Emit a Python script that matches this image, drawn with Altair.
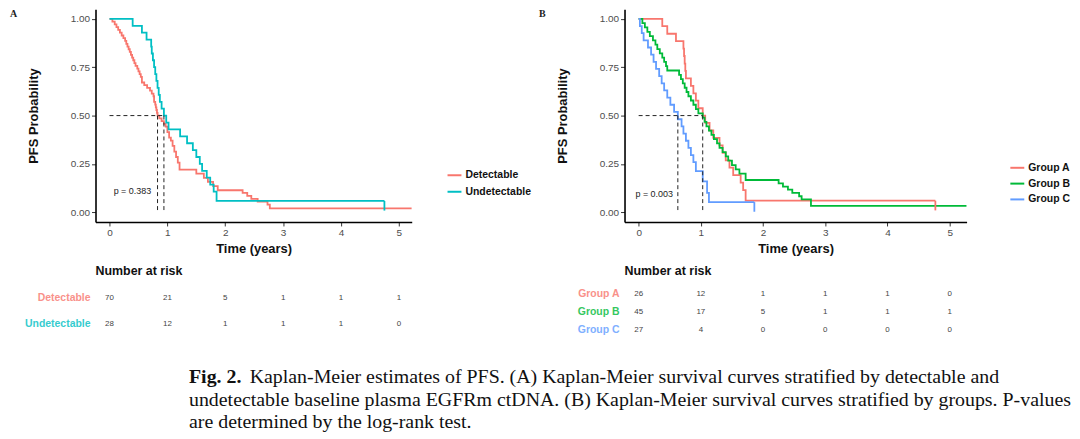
import altair as alt
import pandas as pd

# ---------------- data ----------------
det_t = [0, 0.05, 0.09, 0.12, 0.15, 0.18, 0.21, 0.24, 0.27, 0.29, 0.31, 0.33, 0.35, 0.37, 0.39,
         0.41, 0.43, 0.45, 0.48, 0.5, 0.52, 0.54, 0.56, 0.6, 0.65, 0.7, 0.73, 0.76, 0.77, 0.79,
         0.8, 0.81, 0.82, 0.83, 0.86, 0.9, 0.94, 0.97, 1.0, 1.03, 1.06, 1.09, 1.12, 1.15, 1.18,
         1.21, 1.5, 1.63, 1.7, 1.79, 1.87, 2.3, 2.38, 2.45, 2.56, 2.73, 2.77, 5.22]
det_s = [1.0, 0.986, 0.971, 0.957, 0.943, 0.929, 0.914, 0.9, 0.886, 0.871, 0.857, 0.843, 0.829,
         0.814, 0.8, 0.786, 0.771, 0.757, 0.743, 0.729, 0.714, 0.7, 0.671, 0.657, 0.643, 0.629,
         0.614, 0.6, 0.571, 0.557, 0.543, 0.529, 0.514, 0.5, 0.486, 0.471, 0.457, 0.443, 0.414,
         0.386, 0.371, 0.343, 0.314, 0.286, 0.257, 0.221, 0.2, 0.178, 0.157, 0.135, 0.114, 0.1,
         0.085, 0.07, 0.055, 0.04, 0.02, 0.02]

und_t = [0, 0.4, 0.56, 0.64, 0.72, 0.73, 0.75, 0.77, 0.79, 0.81, 0.83, 0.85, 0.87, 0.9, 0.94,
         0.98, 1.02, 1.22, 1.34, 1.44, 1.5, 1.56, 1.6, 1.68, 1.74, 1.8, 1.85, 4.75]
und_s = [1.0, 0.964, 0.929, 0.893, 0.857, 0.821, 0.786, 0.75, 0.714, 0.679, 0.643, 0.607, 0.571,
         0.536, 0.5, 0.464, 0.429, 0.393, 0.357, 0.321, 0.286, 0.25, 0.214, 0.179, 0.143, 0.107,
         0.059, 0.059]

ga_t = [0, 0.38, 0.46, 0.6, 0.72, 0.73, 0.74, 0.75, 0.76, 0.84, 0.88, 0.92, 0.96, 1.03, 1.07,
        1.14, 1.2, 1.3, 1.35, 1.4, 1.46, 1.52, 1.64, 1.68, 1.72, 4.77]
ga_s = [1.0, 0.962, 0.923, 0.885, 0.846, 0.808, 0.769, 0.731, 0.692, 0.654, 0.615, 0.577, 0.538,
        0.5, 0.462, 0.423, 0.385, 0.346, 0.308, 0.269, 0.231, 0.192, 0.154, 0.115, 0.06, 0.06]

gb_t = [0, 0.06, 0.1, 0.14, 0.18, 0.23, 0.27, 0.3, 0.34, 0.38, 0.41, 0.44, 0.46, 0.65, 0.68,
        0.71, 0.74, 0.77, 0.8, 0.84, 0.88, 0.92, 0.96, 1.03, 1.06, 1.09, 1.13, 1.17, 1.21, 1.26,
        1.3, 1.35, 1.4, 1.44, 1.5, 1.56, 1.62, 1.72, 2.25, 2.32, 2.4, 2.47, 2.58, 2.62, 2.77, 5.27]
gb_s = [1.0, 0.978, 0.956, 0.933, 0.911, 0.889, 0.867, 0.844, 0.822, 0.8, 0.778, 0.756, 0.733,
        0.711, 0.689, 0.667, 0.644, 0.622, 0.6, 0.578, 0.556, 0.533, 0.511, 0.489, 0.467, 0.444,
        0.422, 0.4, 0.378, 0.356, 0.333, 0.311, 0.289, 0.267, 0.244, 0.222, 0.2, 0.167, 0.15,
        0.133, 0.117, 0.1, 0.083, 0.067, 0.033, 0.033]

gc_t = [0, 0.02, 0.05, 0.08, 0.15, 0.2, 0.24, 0.28, 0.33, 0.37, 0.41, 0.46, 0.51, 0.57, 0.63,
        0.69, 0.72, 0.76, 0.8, 0.84, 0.88, 0.92, 1.03, 1.1, 1.13, 1.86]
gc_s = [1.0, 0.963, 0.926, 0.889, 0.852, 0.815, 0.778, 0.741, 0.704, 0.667, 0.63, 0.593, 0.556,
        0.519, 0.481, 0.444, 0.407, 0.37, 0.333, 0.296, 0.259, 0.213, 0.16, 0.1, 0.053, 0.053]

groups_a = ["Detectable", "Undetectable"]
colors_a = ["#F8766D", "#00BFC4"]
groups_b = ["Group A", "Group B", "Group C"]
colors_b = ["#F8766D", "#00BA38", "#619CFF"]

censor_a_group = ["Undetectable"]
censor_a_t = [4.75]
censor_a_s = [0.059]
censor_b_group = ["Group A", "Group C"]
censor_b_t = [4.77, 1.86]
censor_b_s = [0.06, 0.053]

median_a = [0.83, 0.94]
median_b = [0.63, 1.03]

risk_times = [0, 1, 2, 3, 4, 5]
risk_det = [70, 21, 5, 1, 1, 1]
risk_und = [28, 12, 1, 1, 1, 0]
risk_ga = [26, 12, 1, 1, 1, 0]
risk_gb = [45, 17, 5, 1, 1, 1]
risk_gc = [27, 4, 0, 0, 0, 0]

p_a = "p = 0.383"
p_b = "p = 0.003"

caption_bold = "Fig. 2."
caption_lines = [
    "Kaplan-Meier estimates of PFS. (A) Kaplan-Meier survival curves stratified by detectable and",
    "undetectable baseline plasma EGFRm ctDNA. (B) Kaplan-Meier survival curves stratified by groups. P-values",
    "are determined by the log-rank test.",
]

SANS = "Liberation Sans"
SERIF = "Liberation Serif"


def curve_frame(series):
    rows = []
    for name, ts, ss in series:
        for i, (t, s) in enumerate(zip(ts, ss)):
            rows.append({"group": name, "t": t, "s": s, "i": i})
    return pd.DataFrame(rows)


def km_panel(series, groups, colors, cens, medians, xdom, width, letter, ptext, p_x, p_y,
             p_align, leg_x, leg_y, leg_rowpad):
    xs = alt.Scale(domain=xdom, nice=False, zero=False)
    ys = alt.Scale(domain=[-0.05, 1.05], nice=False, zero=False)
    cs = alt.Scale(domain=groups, range=colors)
    x_axis = alt.Axis(values=[0, 1, 2, 3, 4, 5], format="d", title="Time (years)",
                      titlePadding=5)
    y_axis = alt.Axis(values=[0, 0.25, 0.5, 0.75, 1.0], format=".2f", title="PFS Probability",
                      titlePadding=30)
    df = curve_frame(series)
    lines = alt.Chart(df).mark_line(interpolate="step-after", strokeWidth=1.8).encode(
        x=alt.X("t:Q", scale=xs, axis=x_axis),
        y=alt.Y("s:Q", scale=ys, axis=y_axis),
        color=alt.Color("group:N", scale=cs, legend=alt.Legend(
            orient="none", legendX=leg_x, legendY=leg_y, title=None, symbolType="stroke",
            symbolSize=196, symbolStrokeWidth=2, labelFont=SANS, labelFontSize=10.5,
            labelFontWeight="bold", labelColor="#111", labelOffset=3, rowPadding=leg_rowpad,
            padding=0)),
        order="i:Q",
    )
    cdf = pd.DataFrame({"group": cens[0], "t": cens[1], "s": cens[2]})
    cdf["s2"] = cdf["s"] - 0.05
    censor = alt.Chart(cdf).mark_rule(strokeWidth=1.8).encode(
        x="t:Q", y="s:Q", y2="s2:Q",
        color=alt.Color("group:N", scale=cs, legend=None))
    hdf = pd.DataFrame({"t": [0], "t2": [max(medians)], "s": [0.5]})
    hrule = alt.Chart(hdf).mark_rule(strokeDash=[4, 3], color="#222", strokeWidth=1).encode(
        x="t:Q", x2="t2:Q", y="s:Q")
    vdf = pd.DataFrame({"t": medians, "s": [0.5] * len(medians), "s2": [0.0] * len(medians)})
    vrule = alt.Chart(vdf).mark_rule(strokeDash=[4, 3], color="#222", strokeWidth=1).encode(
        x="t:Q", y="s:Q", y2="s2:Q")
    ptxt = alt.Chart(pd.DataFrame({"label": [ptext]})).mark_text(
        font=SANS, fontSize=9, color="#222", align=p_align, baseline="middle").encode(
        x=alt.value(p_x), y=alt.value(p_y), text="label:N")
    let = alt.Chart(pd.DataFrame({"label": [letter]})).mark_text(
        font=SERIF, fontSize=10, fontWeight="bold", color="#222", align="left",
        baseline="middle").encode(x=alt.value(-86), y=alt.value(5), text="label:N")
    return alt.layer(lines, censor, hrule, vrule, ptxt, let).properties(width=width, height=214)


def risk_panel(groups, colors, counts, xdom, width, yrange, extra=None):
    xs = alt.Scale(domain=xdom, nice=False, zero=False)
    cs = alt.Scale(domain=groups, range=colors)
    rows = []
    for g, c in zip(groups, counts):
        for t, n in zip(risk_times, c):
            rows.append({"group": g, "t": t, "n": n})
    rdf = pd.DataFrame(rows)
    yenc = alt.Y("group:N", scale=alt.Scale(type="point", domain=groups, range=yrange, padding=0),
                 axis=None)
    nums = alt.Chart(rdf).mark_text(font=SANS, fontSize=8, color="#444",
                                    baseline="middle").encode(
        x=alt.X("t:Q", scale=xs, axis=None), y=yenc, text="n:Q")
    labs = alt.Chart(pd.DataFrame({"group": groups})).mark_text(
        font=SANS, fontSize=10.5, fontWeight="bold", align="right", baseline="middle",
        opacity=0.8).encode(
        x=alt.value(-5), y=yenc, text="group:N",
        color=alt.Color("group:N", scale=cs, legend=None))
    head = alt.Chart(pd.DataFrame({"label": ["Number at risk"]})).mark_text(
        font=SANS, fontSize=12.5, fontWeight="bold", color="#111", align="left",
        baseline="middle").encode(x=alt.value(0), y=alt.value(-23), text="label:N")
    layers = [nums, labs, head]
    if extra is not None:
        layers += extra
    return alt.layer(*layers).properties(width=width, height=37)


XDOM_A = [-0.242, 5.222]
XDOM_B = [-0.227, 5.272]
W_A = 318
W_B = 344

kmA = km_panel([("Detectable", det_t, det_s), ("Undetectable", und_t, und_s)],
               groups_a, colors_a, (censor_a_group, censor_a_t, censor_a_s), median_a,
               XDOM_A, W_A, "A", p_a, 56, 183, "right", 353, 159, 2.6)
kmB = km_panel([("Group A", ga_t, ga_s), ("Group B", gb_t, gb_s), ("Group C", gc_t, gc_s)],
               groups_b, colors_b, (censor_b_group, censor_b_t, censor_b_s), median_b,
               XDOM_B, W_B, "B", p_b, 11, 186, "left", 387, 151.5, 1.9)

# caption (annotation text placed under the panels)
CAP_FS = 20
cap_x = 94
cap_y = [84, 107, 129]
cap_layers = [alt.Chart(pd.DataFrame({"label": [caption_bold]})).mark_text(
    font=SERIF, fontSize=CAP_FS, fontWeight="bold", color="#111", align="left",
    baseline="middle").encode(x=alt.value(cap_x), y=alt.value(cap_y[0]), text="label:N")]
cap_layers.append(alt.Chart(pd.DataFrame({"label": [caption_lines[0]]})).mark_text(
    font=SERIF, fontSize=CAP_FS, color="#111", align="left", baseline="middle").encode(
    x=alt.value(cap_x + 61), y=alt.value(cap_y[0]), text="label:N"))
for k in (1, 2):
    cap_layers.append(alt.Chart(pd.DataFrame({"label": [caption_lines[k]]})).mark_text(
        font=SERIF, fontSize=CAP_FS, color="#111", align="left", baseline="middle").encode(
        x=alt.value(cap_x), y=alt.value(cap_y[k]), text="label:N"))

riskA = risk_panel(groups_a, colors_a, [risk_det, risk_und], XDOM_A, W_A, [4, 31],
                   extra=cap_layers)
riskB = risk_panel(groups_b, colors_b, [risk_ga, risk_gb, risk_gc], XDOM_B, W_B, [0, 36.6])

chart = alt.concat(kmA, kmB, riskA, riskB, columns=2,
                   spacing={"row": 72, "column": 214}, bounds="flush", align="each").resolve_scale(
    x="independent", y="independent", color="independent"
).properties(
    padding={"left": 2, "top": 0, "right": 0, "bottom": 0},
    background="white",
).configure_view(stroke=None).configure_axis(
    grid=False, domainColor="#000", domainWidth=1.6, tickColor="#333", tickSize=4,
    tickWidth=1, labelFont=SANS, labelFontSize=10, labelColor="#4d4d4d", labelPadding=2,
    titleFont=SANS, titleFontSize=13, titleFontWeight="bold", titleColor="#111",
)

chart.save("out.html", embed_options={"renderer": "svg", "actions": False})
